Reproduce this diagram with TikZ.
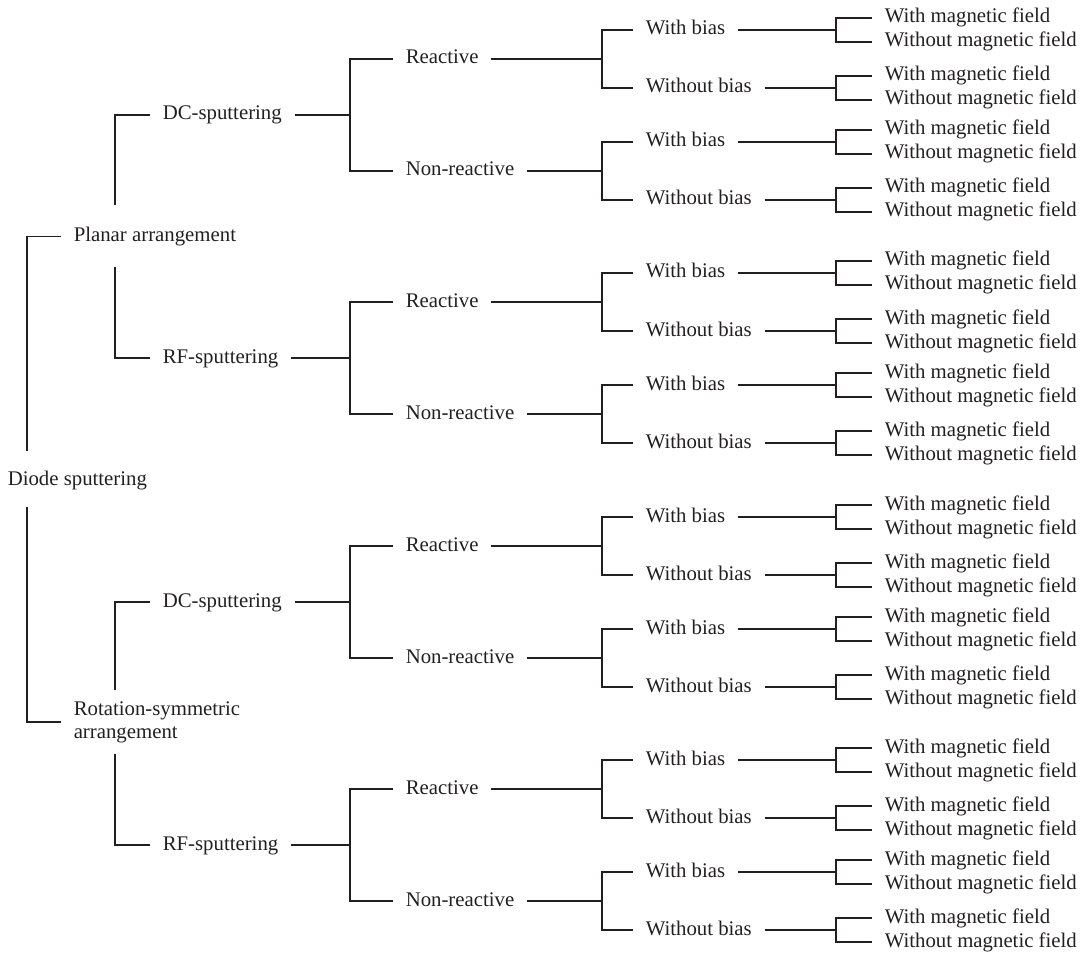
\documentclass[tikz,border=0pt]{standalone}
\usepackage{fontspec}
\setmainfont{Liberation Serif}
\definecolor{ink}{RGB}{35,31,32}
\begin{document}
\begin{tikzpicture}[x=0.5pt,y=-0.5pt,line width=0.75pt,draw=ink,
  lblbase/.style={anchor=west,inner xsep=6pt,inner ysep=0pt,text=ink,font=\fontsize{10.4}{11.5}\selectfont},
  lbl/.style={lblbase,text height=0.6em,text depth=0.1em}]
\useasboundingbox (0,0) rectangle (1092,957);
% top levels
\node[lbl] (ds) at (-5,480) {Diode sputtering};
\node[lbl] (pa) at (61,236.5) {Planar arrangement};
\node[lblbase,align=left] (ra) at (61,722) {Rotation-symmetric\\arrangement};
\coordinate (ds-t) at (27,451);
\coordinate (ds-b) at (27,507);
\draw (ds-t) |- (pa.west);
\draw (ds-b) |- (ra.west);
% blocks
\foreach \b/\o/\pl in {1/0/DC,2/243/RF,3/487/DC,4/730/RF}{
  \node[lbl] (p\b) at (150,115+\o) {\pl-sputtering};
  \node[lbl] (r\b) at (393,59+\o) {Reactive};
  \node[lbl] (n\b) at (393,171+\o) {Non-reactive};
  \coordinate (p\b-k) at (350,115+\o);
  \draw (p\b.east) -- (p\b-k);
  \draw (r\b.west) -| (p\b-k) |- (n\b.west);
  \foreach \k/\ga/\gb in {r/30/88,n/142/200}{
    \node[lbl] (\k\b-wb) at (633,\ga+\o) {With bias};
    \node[lbl] (\k\b-ob) at (633,\gb+\o) {Without bias};
    \coordinate (\k\b-k) at (602,{(\ga+\gb)/2+\o});
    \draw (\k\b.east) -- (\k\b-k);
    \draw (\k\b-wb.west) -| (\k\b-k) |- (\k\b-ob.west);
    \foreach \s/\g in {wb/\ga,ob/\gb}{
      \coordinate (\k\b-\s-k) at (836,\g+\o);
      \node[lbl] (\k\b-\s-m) at (872,\g-12+\o) {With magnetic field};
      \node[lbl] (\k\b-\s-o) at (872,\g+12+\o) {Without magnetic field};
      \draw (\k\b-\s.east) -- (\k\b-\s-k);
      \draw (\k\b-\s-m.west) -| (\k\b-\s-k) |- (\k\b-\s-o.west);
    }
  }
}
% arrangement brackets
\coordinate (pa-t) at (115,205);
\coordinate (pa-b) at (115,267);
\coordinate (ra-t) at (115,690);
\coordinate (ra-b) at (115,754);
\draw (pa-t) |- (p1.west);
\draw (pa-b) |- (p2.west);
\draw (ra-t) |- (p3.west);
\draw (ra-b) |- (p4.west);
\end{tikzpicture}
\end{document}
